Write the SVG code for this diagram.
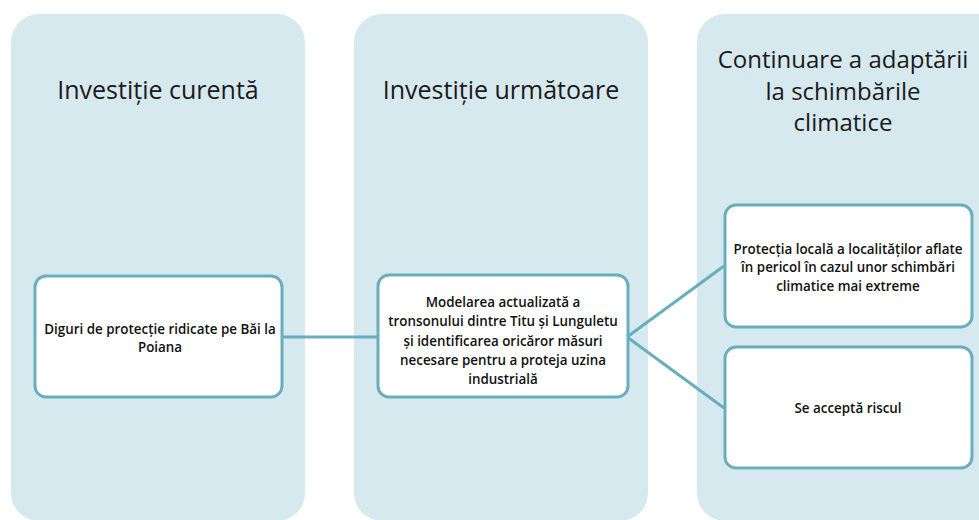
<svg xmlns="http://www.w3.org/2000/svg" width="979" height="520" viewBox="0 0 979 520">
<style>
.col{fill:#d6e9ef}
.box{fill:#ffffff;stroke:#68aebf;stroke-width:3}
.conn{fill:none;stroke:#68aebf;stroke-width:3}
.title{font-family:"Open Sans","Liberation Sans",sans-serif;font-size:25px;fill:#1a1a1a;text-anchor:middle}
.t3{font-size:24px}
.txt{font-family:"Open Sans","Liberation Sans",sans-serif;font-size:13.4px;font-weight:600;fill:#111;text-anchor:middle}
</style>
<rect width="979" height="520" fill="#ffffff"/>
<g id="col1">
<rect class="col" x="11" y="14" width="294" height="507" rx="28"/>
<text class="title" x="158" y="99">Investiție curentă</text>
</g>
<g id="col2">
<rect class="col" x="354" y="14" width="294" height="507" rx="28"/>
<text class="title" x="501" y="99">Investiție următoare</text>
</g>
<g id="col3">
<rect class="col" x="697" y="14" width="310" height="507" rx="28"/>
<text class="title t3" x="843" y="68">Continuare a adaptării</text>
<text class="title t3" x="843" y="100">la schimbările</text>
<text class="title t3" x="843" y="131">climatice</text>
</g>
<g id="connectors">
<path class="conn" d="M282 337 H378"/>
<path class="conn" d="M627 337 L724 266"/>
<path class="conn" d="M627 337 L724 408"/>
</g>
<g id="box1">
<rect class="box" x="35" y="276" width="247" height="121" rx="11"/>
<text class="txt" x="160" y="334">Diguri de protecție ridicate pe Băi la</text>
<text class="txt" x="160" y="352">Poiana</text>
</g>
<g id="box2">
<rect class="box" x="378" y="275" width="250" height="122" rx="11"/>
<text class="txt" x="503" y="307">Modelarea actualizată a</text>
<text class="txt" x="503" y="326">tronsonului dintre Titu și Lunguletu</text>
<text class="txt" x="503" y="346">și identificarea oricăror măsuri</text>
<text class="txt" x="503" y="365">necesare pentru a proteja uzina</text>
<text class="txt" x="503" y="384">industrială</text>
</g>
<g id="box3">
<rect class="box" x="725" y="205" width="247" height="122" rx="11"/>
<text class="txt" x="848" y="254">Protecția locală a localităților aflate</text>
<text class="txt" x="848" y="272">în pericol în cazul unor schimbări</text>
<text class="txt" x="848" y="291">climatice mai extreme</text>
</g>
<g id="box4">
<rect class="box" x="725" y="347" width="247" height="121" rx="11"/>
<text class="txt" x="848" y="413">Se acceptă riscul</text>
</g>
</svg>
